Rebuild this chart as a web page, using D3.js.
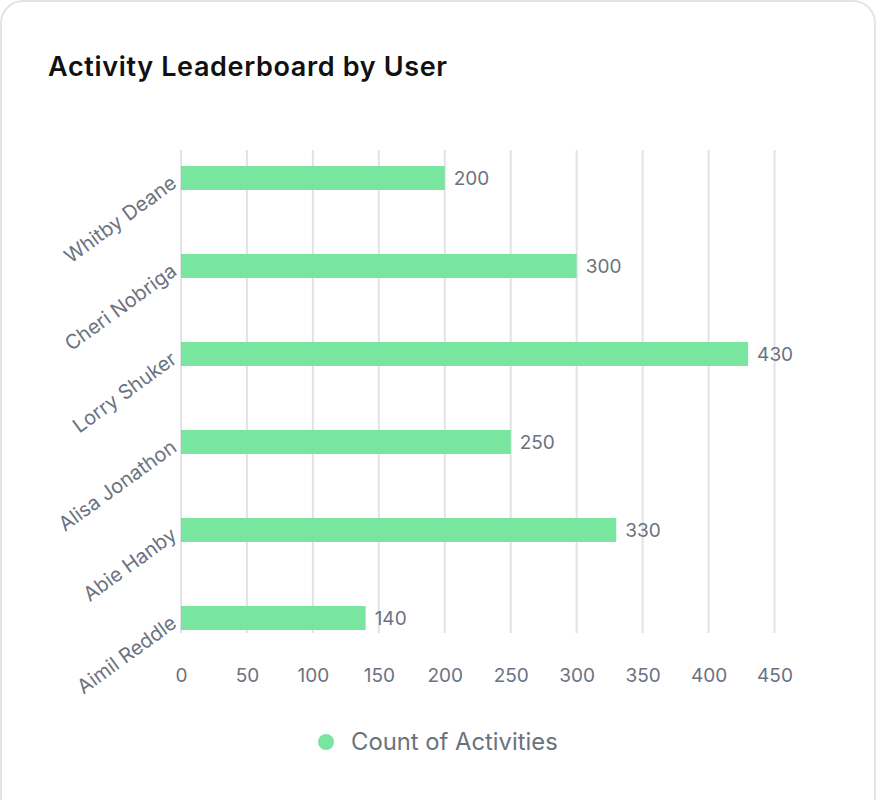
<!DOCTYPE html>
<html>
<head>
<meta charset="utf-8">
<script src="https://cdn.jsdelivr.net/npm/d3@7"></script>
<style>
  html, body { margin: 0; padding: 0; background: #fff; }
  svg { display: block; font-family: Inter, "Noto Sans", sans-serif; }
</style>
</head>
<body>
<svg id="chart" width="876" height="800"></svg>
<script>
const users = ["Whitby Deane", "Cheri Nobriga", "Lorry Shuker", "Alisa Jonathon", "Abie Hanby", "Aimil Reddle"];
const activityCounts = [200, 300, 430, 250, 330, 140];
const xTicks = [0, 50, 100, 150, 200, 250, 300, 350, 400, 450];
const seriesName = "Count of Activities";
const title = "Activity Leaderboard by User";

const svg = d3.select("#chart");

// card
svg.append("rect")
  .attr("x", 1).attr("y", 1).attr("width", 874).attr("height", 830)
  .attr("rx", 22).attr("ry", 22)
  .attr("fill", "#fff").attr("stroke", "#e3e4e8").attr("stroke-width", 2);

svg.append("text")
  .attr("x", 48).attr("y", 76)
  .attr("font-size", 27).attr("font-weight", 600).attr("fill", "#111111")
  .attr("textLength", 399).attr("lengthAdjust", "spacing")
  .text(title);

const x = d3.scaleLinear().domain([0, 450]).range([181, 774.5]);
const y = d3.scaleBand().domain(users).range([134, 662]).paddingInner(0.727).paddingOuter(0.3635);

const gridTop = 150, gridBottom = 633;

// gridlines
svg.append("g").selectAll("line").data(xTicks).join("line")
  .attr("x1", d => x(d)).attr("x2", d => x(d))
  .attr("y1", gridTop).attr("y2", gridBottom)
  .attr("stroke", "#e2e2e8").attr("stroke-width", 2);

// bars
svg.append("g").selectAll("rect").data(users).join("rect")
  .attr("x", x(0))
  .attr("y", (d) => y(d))
  .attr("height", y.bandwidth())
  .attr("width", (d, i) => x(activityCounts[i]) - x(0))
  .attr("fill", "#79e6a0");

// value labels
svg.append("g").selectAll("text").data(users).join("text")
  .attr("x", (d, i) => x(activityCounts[i]) + 9)
  .attr("y", d => y(d) + y.bandwidth() / 2)
  .attr("dy", "0.35em")
  .attr("font-size", 19).attr("fill", "#6b7280")
  .text((d, i) => activityCounts[i]);

// x axis
const xAxis = d3.axisBottom(x).tickValues(xTicks).tickSize(0).tickPadding(0);
const gx = svg.append("g").attr("transform", `translate(0, ${668})`).call(xAxis);
gx.select(".domain").remove();
gx.selectAll("text")
  .attr("font-size", 19).attr("fill", "#6b7280")
  .attr("font-family", "Inter, 'Noto Sans', sans-serif")
  .attr("dy", "0.75em");

// y axis labels (rotated)
svg.append("g").selectAll("text").data(users).join("text")
  .attr("transform", d => `translate(${178}, ${y(d) + y.bandwidth() / 2 + 8}) rotate(-36)`)
  .attr("text-anchor", "end")
  .attr("font-size", 20).attr("fill", "#6b7280")
  .text(d => d);

// legend
const lg = svg.append("g");
lg.append("circle").attr("cx", 326).attr("cy", 742).attr("r", 8).attr("fill", "#79e6a0");
lg.append("text").attr("x", 351).attr("y", 742).attr("dy", "0.35em")
  .attr("font-size", 23.8).attr("fill", "#6b7280").text(seriesName);
</script>
</body>
</html>
